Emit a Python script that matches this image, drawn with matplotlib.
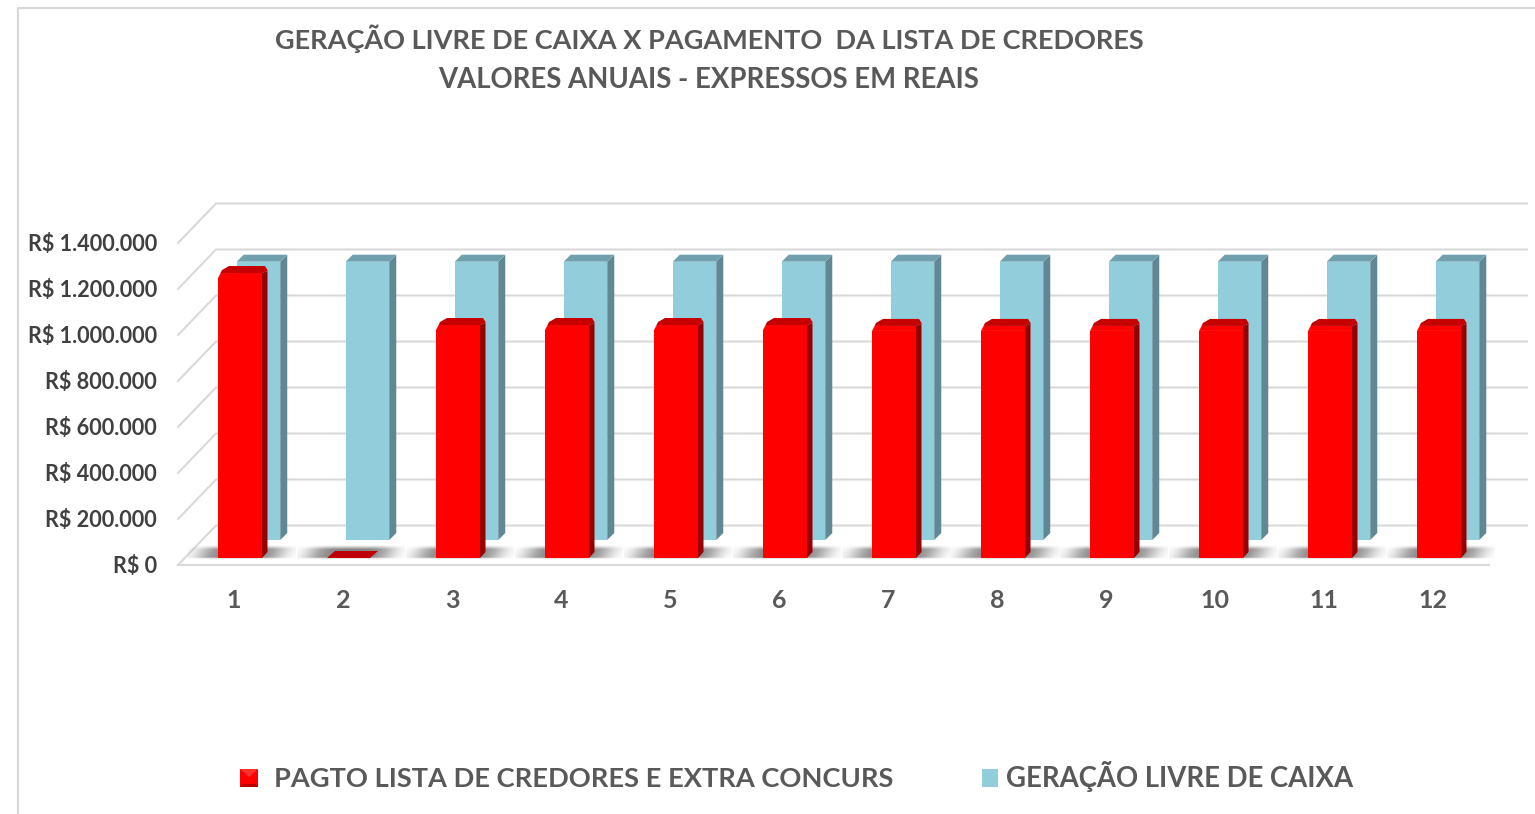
import numpy as np, matplotlib
matplotlib.use("Agg")
import matplotlib.pyplot as plt
from matplotlib.patches import Polygon
from matplotlib.colors import LinearSegmentedColormap

categorias=[str(i) for i in range(1,13)]
pagto=[1239000,0,1013000,1013000,1013000,1013000,1009000,1009000,1009000,1009000,1009000,1009000]
geracao=[1210000]*12
yticks=[0,200000,400000,600000,800000,1000000,1200000,1400000]
ylabels=["R$ 0","R$ 200.000","R$ 400.000","R$ 600.000","R$ 800.000","R$ 1.000.000","R$ 1.200.000","R$ 1.400.000"]
titulo1="GERAÇÃO LIVRE DE CAIXA X PAGAMENTO  DA LISTA DE CREDORES"
titulo2="VALORES ANUAIS - EXPRESSOS EM REAIS"
leg1="PAGTO LISTA DE CREDORES E EXTRA CONCURS"
leg2="GERAÇÃO LIVRE DE CAIXA"

W,H=1535,814
PXX=109.0; PXY=46/200000   # px per category, px per real
X0=234; Y0=565              # pixel of category 1 / of value 0 on the front plane
plt.rcParams["font.family"]=["Lato","DejaVu Sans"]
fig=plt.figure(figsize=(W/100,H/100),dpi=100)
ax=fig.add_axes([0,0,1,1])
dx=lambda p:p/PXX
dy=lambda p:p/PXY
def xp(p): return (p-X0)/PXX
def yp(p): return (Y0-p)/PXY
GRID="#D9D9D9"; LW=1.5
# frame of the pasted picture
ax.plot([xp(18),xp(18),xp(W)],[yp(H),yp(8),yp(8)],color="#D9D9D9",lw=1.6,zorder=1)
# walls, no right hand diagonal in the original
xf0,xf1=xp(178),xp(1489); bx,by=dx(38),dy(39.5)
for v in yticks:
    ax.plot([xf0,xf0+bx,xf1+bx],[v,v+by,v+by],color=GRID,lw=LW,zorder=1,solid_joinstyle="miter")
ax.plot([xf0,xf1],[0,0],color=GRID,lw=LW,zorder=1)
# cyan series (back row)
AZ="#92CDDC"; AZT="#70A0AE"; AZS="#5F8794"
base_az=dy(25); xoff_az=dx(24.5); bw=dx(43.5)
depth_x,depth_y=dx(7),dy(7)
for i,v in enumerate(geracao):
    x=i+xoff_az; l=x-bw/2; r=x+bw/2; t=base_az+v
    ax.bar(x,v,bw,bottom=base_az,color=AZ,zorder=2)
    ax.add_patch(Polygon([(r,base_az),(r+depth_x,base_az+depth_y),(r+depth_x,t+depth_y),(r,t)],fc=AZS,ec="none",zorder=2))
    ax.add_patch(Polygon([(l,t),(l+depth_x,t+depth_y),(r+depth_x,t+depth_y),(r,t)],fc=AZT,ec="none",zorder=2))
# soft shadows on the floor, over the back row but beneath the red bars
sh=LinearSegmentedColormap.from_list("sh",[(0.4,0.4,0.4,0),(0.4,0.4,0.4,0.8)])
gx,gy=np.meshgrid(np.linspace(-1,1,120),np.linspace(0,1,30))   # gy: 0 top of image, 1 bottom
slant=gx-(1-gy)*0.14+0.07
alpha=np.exp(-(slant/0.78)**4)*np.clip(gy*3.2,0,1)*np.clip((1-gy)*9,0,1)
w=dx(54)
for i in range(12):
    c=i+dx(8)
    ax.imshow(alpha,cmap=sh,extent=(c-w,c+w,dy(5.5),dy(19)),aspect="auto",zorder=3,vmin=0,vmax=1,interpolation="bilinear")
# red series (front row)
base=dy(7); xoff=dx(6); rw=dx(44)
ddx,ddy=dx(5.5),dy(7); c_x,c_y=dx(3),dy(5)
for i,v in enumerate(pagto):
    x=i+xoff; l=x-rw/2; r=x+rw/2; t=base+v
    if v==0:
        ax.add_patch(Polygon([(l,base),(r-dx(1),base),(r+dx(7),base+dy(7)),(l+dx(8),base+dy(7))],fc="#C00000",ec="none",zorder=5))
        continue
    ax.bar(x,v-c_y,rw,bottom=base,color="#FF0000",zorder=5)
    ax.add_patch(Polygon([(l,t-c_y),(l+c_x,t),(r,t),(r,t-c_y)],fc="#FF0000",ec="none",zorder=5))
    ax.add_patch(Polygon([(r,base),(r+ddx,base+dy(6)),(r+ddx,t+dy(2)),(r,t)],fc="#960000",ec="none",zorder=5))
    ax.add_patch(Polygon([(l,t-c_y),(l+dx(4),t+dy(3)),(l+dx(11),t+ddy),(r+dx(3),t+ddy),(r+ddx,t+dy(3)),(r+ddx,t+dy(2)),(r,t),(l+c_x,t)],fc="#C60000",ec="none",zorder=5))
ax.set_xlim(-X0/PXX,(W-X0)/PXX); ax.set_ylim((Y0-H)/PXY,Y0/PXY); ax.axis("off")
# texts
for v,s in zip(yticks,ylabels):
    ax.text(xp(157),v-dy(1.5),s,ha="right",va="center",fontsize=15.6,fontweight="bold",color="#404040",zorder=6)
for i,s in enumerate(categorias):
    ax.text(i,yp(600),s,ha="center",va="center",fontsize=18,fontweight="bold",color="#595959",zorder=6)
ax.text(xp(709),yp(49),titulo1,ha="center",va="baseline",fontsize=19.5,fontweight="bold",color="#595959",zorder=6)
ax.text(xp(709),yp(88),titulo2,ha="center",va="baseline",fontsize=19.85,fontweight="bold",color="#595959",zorder=6)
# legend
a,b,c,d=xp(240),xp(258),yp(769),yp(787); mx,my=xp(249),yp(777)
ax.add_patch(Polygon([(a,c),(b,c),(b,d),(a,d)],fc="#FF0000",ec="none",zorder=6))
ax.add_patch(Polygon([(a,c),(b,c),(mx,my)],fc="#FF3030",ec="none",zorder=6))
ax.add_patch(Polygon([(a,d),(b,d),(xp(256),yp(784)),(xp(242),yp(784))],fc="#B80000",ec="none",zorder=6))
ax.add_patch(Polygon([(xp(982),yp(769)),(xp(998),yp(769)),(xp(998),yp(787)),(xp(982),yp(787))],fc=AZ,ec="none",zorder=6))
ax.text(xp(274),yp(787),leg1,ha="left",va="baseline",fontsize=19.6,fontweight="bold",color="#595959",zorder=6)
ax.text(xp(1006),yp(787),leg2,ha="left",va="baseline",fontsize=19.8,fontweight="bold",color="#595959",zorder=6)
fig.savefig("out.png",dpi=100)
